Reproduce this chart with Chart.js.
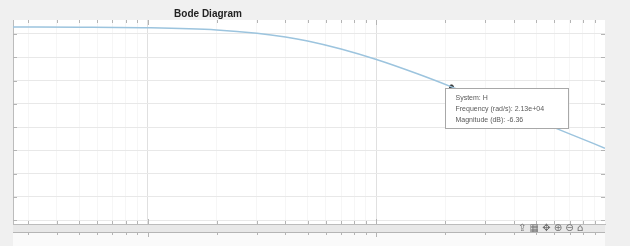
<!DOCTYPE html>
<html>
<head>
<meta charset="utf-8">
<script src="https://cdn.jsdelivr.net/npm/chart.js@4.4.1/dist/chart.umd.min.js"></script>
<style>
  html, body { margin: 0; padding: 0; background: #f0f0f0; }
  #wrap { width: 630px; height: 246px; }
</style>
</head>
<body>
<div id="wrap"><canvas id="bode" width="630" height="246"></canvas></div>
<script>
// frequency (rad/s) and magnitude (dB)
const freq = [257, 500, 1000, 2000, 3000, 4000, 5000, 7000, 10000, 15000, 21300, 30000, 50000, 70000, 100000];
const magDb = [6.49, 6.46, 6.33, 5.86, 5.16, 4.35, 3.49, 1.77, -0.49, -3.5, -6.36, -9.35, -13.54, -16.44, -19.53];

// datatip
const tipFreq = [21300];
const tipMag = [-6.36];
const tipLines = ['System: H', 'Frequency (rad/s): 2.13e+04', 'Magnitude (dB): -6.36'];

const xDecades = [1000, 10000];
const xTicks = [300, 400, 500, 600, 700, 800, 900, 1000, 2000, 3000, 4000, 5000, 6000, 7000, 8000, 9000,
  10000, 20000, 30000, 40000, 50000, 60000, 70000, 80000, 90000];
const yTicks = [-35, -30, -25, -20, -15, -10, -5, 0, 5];

const frame = {
  id: 'frame',
  beforeDraw(chart) {
    const { ctx, chartArea: a } = chart;
    ctx.save();
    ctx.fillStyle = '#ffffff';
    ctx.fillRect(a.left, a.top, a.right - a.left, a.bottom - a.top);
    // band under the axes
    ctx.fillStyle = '#e8e8e8';
    ctx.fillRect(a.left, a.bottom, a.right - a.left, 9);
    ctx.fillStyle = '#fafafa';
    ctx.fillRect(a.left, a.bottom + 9, a.right - a.left, 20);
    ctx.restore();
  },
  afterDraw(chart) {
    const { ctx, chartArea: a, scales } = chart;
    ctx.save();
    ctx.strokeStyle = '#b4b4b4';
    ctx.lineWidth = 1;
    ctx.beginPath();
    xTicks.forEach(v => {
      const x = Math.round(scales.x.getPixelForValue(v)) + 0.5;
      const len = xDecades.includes(v) ? 5 : 3;
      ctx.moveTo(x, a.top); ctx.lineTo(x, a.top + len);
      ctx.moveTo(x, a.bottom); ctx.lineTo(x, a.bottom - len);
      ctx.moveTo(x, a.bottom + 8); ctx.lineTo(x, a.bottom + 8 + len);
    });
    yTicks.forEach(v => {
      const y = Math.round(scales.y.getPixelForValue(v)) + 0.5;
      ctx.moveTo(a.left, y); ctx.lineTo(a.left + 4, y);
      ctx.moveTo(a.right, y); ctx.lineTo(a.right - 4, y);
    });
    ctx.stroke();
    ctx.strokeStyle = '#b5b5b5';
    ctx.beginPath();
    ctx.moveTo(a.left, a.bottom + 8.5); ctx.lineTo(a.right, a.bottom + 8.5);
    ctx.stroke();

    // title
    ctx.fillStyle = '#222';
    ctx.font = 'bold 10px "Liberation Sans", Arial, sans-serif';
    ctx.textAlign = 'center';
    ctx.textBaseline = 'middle';
    ctx.fillText('Bode Diagram', 208, 14);

    // datatip box
    const px = scales.x.getPixelForValue(tipFreq[0]);
    const py = scales.y.getPixelForValue(tipMag[0]);
    const bx = Math.round(px) - 5.5, by = Math.round(py) + 1.5, bw = 123, bh = 40;
    ctx.fillStyle = '#ffffff';
    ctx.fillRect(bx, by, bw, bh);
    ctx.strokeStyle = '#a8a8a8';
    ctx.strokeRect(bx, by, bw, bh);
    ctx.fillStyle = '#5a5a5a';
    ctx.font = '7px "Liberation Sans", Arial, sans-serif';
    ctx.textAlign = 'left';
    tipLines.forEach((t, i) => ctx.fillText(t, bx + 10, by + 10 + i * 11));

    // axes toolbar
    ctx.fillStyle = '#707070';
    ctx.font = '10px "DejaVu Sans", sans-serif';
    ctx.textAlign = 'left';
    ctx.fillText('\u21EA \u25A6 \u2725 \u2295 \u2296 \u2302', 518, a.bottom + 4);
    ctx.restore();
  }
};

new Chart(document.getElementById('bode'), {
  type: 'line',
  data: {
    datasets: [{
      data: freq.map((f, i) => ({ x: f, y: magDb[i] })),
      borderColor: '#9cc4de',
      borderWidth: 1.5,
      pointRadius: 0,
      cubicInterpolationMode: 'monotone',
      fill: false
    }, {
      data: tipFreq.map((f, i) => ({ x: f, y: tipMag[i] })),
      borderColor: '#333',
      backgroundColor: '#333',
      pointRadius: 2,
      showLine: false
    }]
  },
  options: {
    responsive: false,
    animation: false,
    layout: { padding: { left: 13, right: 25, top: 20, bottom: 22 } },
    plugins: { legend: { display: false }, tooltip: { enabled: false } },
    scales: {
      x: {
        type: 'logarithmic',
        min: 257,
        max: 100000,
        afterBuildTicks: s => { s.ticks = xTicks.map(v => ({ value: v, major: xDecades.includes(v) })); },
        ticks: { display: false },
        grid: {
          drawTicks: false,
          color: c => xDecades.includes(c.tick.value) ? '#e0e0e0' : '#f6f6f6'
        },
        border: { display: true, color: '#bcbcbc' }
      },
      y: {
        min: -35.8,
        max: 8,
        afterBuildTicks: s => { s.ticks = yTicks.map(v => ({ value: v })); },
        ticks: { display: false },
        grid: { drawTicks: false, color: '#e8e8e8' },
        border: { display: true, color: '#bcbcbc' }
      }
    }
  },
  plugins: [frame]
});
</script>
</body>
</html>
